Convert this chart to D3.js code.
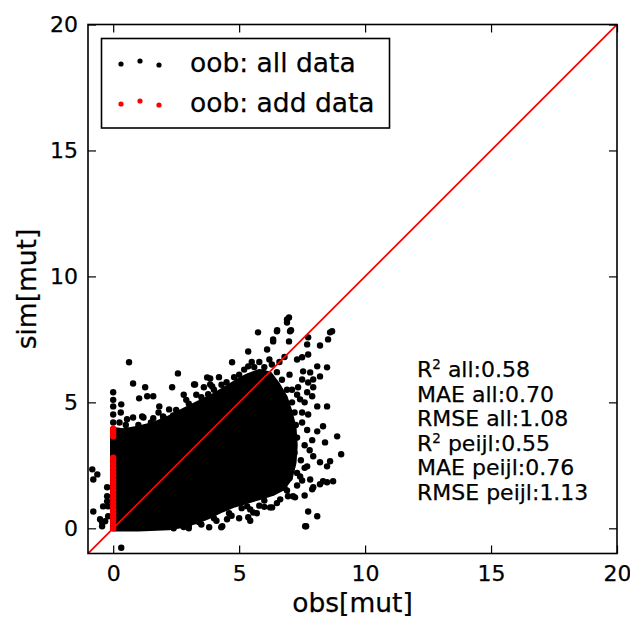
<!DOCTYPE html>
<html>
<head>
<meta charset="utf-8">
<script src="https://cdn.jsdelivr.net/npm/d3@7"></script>
<style>
  body { margin: 0; background: #fff; }
  text { font-family: "DejaVu Sans", sans-serif; fill: #000; stroke: #000; stroke-width: 0.25px; }
</style>
</head>
<body>
<svg id="canvas" width="630" height="621"></svg>
<script>
// axis ticks
const xTicks = [0, 5, 10, 15, 20];
const yTicks = [0, 5, 10, 15, 20];

// solid part of the "all data" cloud, outline of point centres [obs, sim]
const denseCore = [
  [0.0, 0.0], [0.0, 3.9], [0.4, 3.85], [1.0, 3.95], [1.6, 4.1], [2.1, 4.3],
  [2.6, 4.55], [3.1, 4.8], [3.6, 5.05], [4.1, 5.3], [4.6, 5.6], [5.0, 5.85],
  [5.4, 6.05], [5.8, 6.2], [6.2, 6.1], [6.5, 5.7], [6.8, 5.2], [7.0, 4.6],
  [7.15, 4.0], [7.2, 3.3], [7.15, 2.6], [7.0, 2.0], [6.7, 1.6], [6.3, 1.4],
  [5.8, 1.25], [5.3, 1.1], [4.8, 0.95], [4.3, 0.75], [3.8, 0.5], [3.3, 0.3],
  [2.8, 0.15], [2.2, 0.05], [1.0, 0.0]
];

// single "all data" points outside the solid part [obs, sim]
const allPoints = [
  [0.63, 6.59], [2.57, 6.15], [0.79, 5.75], [1.27, 5.6], [2.34, 5.6], [3.21, 5.71],
  [3.85, 5.95], [3.93, 5.63], [3.77, 5.32], [0, 5.4], [0, 5.1], [0, 4.84], [0.32, 4.92],
  [1.03, 5.16], [1.35, 5.24], [1.59, 5.24], [1.83, 4.84], [2.22, 4.72], [0, 4.52],
  [0.55, 4.33], [0.79, 4.4], [1.15, 4.44], [1.59, 4.37], [1.98, 4.44], [2.38, 4.48],
  [2.66, 4.52], [3.17, 4.8], [3.53, 4.84], [0, 4.2], [0.25, 4.2], [0.5, 4.1],
  [1.0, 4.1], [1.5, 4.2], [2.0, 4.4], [2.5, 4.7], [3.0, 4.95], [3.5, 5.2], [4.0, 5.5],
  [4.5, 5.8], [5.0, 6.1], [5.6, 6.4], [6.0, 6.4], [6.3, 6.5], [6.6, 6.6], [6.8, 6.8],
  [7.0, 6.1], [6.5, 6.2], [6.7, 5.9], [6.9, 5.5], [7.1, 5.0], [7.2, 4.6], [7.25, 4.1],
  [7.3, 3.6], [7.2, 3.0], [7.1, 2.5], [7.0, 2.0], [6.8, 1.6], [7.5, 4.2], [7.6, 3.3],
  [7.45, 2.7], [7.3, 2.2], [7.6, 1.3],
  [2.9, 5.1], [3.3, 5.3], [4.3, 5.7], [4.8, 6.0], [5.2, 6.3], [5.5, 6.6], [5.8, 6.6],
  [6.2, 6.7], [4.2, 6.0], [3.6, 5.6], [2.8, 5.3], [1.8, 4.6], [1.2, 4.4], [0.3, 4.6],
  [2.4, 0.0], [3.0, 0.0], [3.5, 0.15], [4.1, 0.3], [4.6, 0.6], [5.0, 0.4], [5.7, 0.6],
  [6.0, 0.85], [6.5, 1.0], [6.9, 1.5], [7.3, 1.7], [7.5, 1.9], [7.6, 2.4], [7.8, 3.1],
  [7.9, 3.5], [7.7, 3.9], [7.5, 4.6], [7.6, 5.0], [7.3, 5.3],
  [6.98, 8.37], [6.9, 8.17], [5.75, 7.78], [6.51, 7.86], [7.06, 7.86], [6.35, 7.42],
  [6.98, 7.42], [8.69, 7.82], [8.53, 7.5], [8.21, 7.26], [7.74, 7.58], [7.7, 7.3],
  [5.36, 7.02], [6.11, 7.1], [4.72, 6.59], [5.36, 6.43], [7.3, 6.7], [7.5, 6.79],
  [7.74, 6.9], [8.1, 6.43], [8.49, 6.39], [7.54, 6.23], [7.82, 6.19], [7.5, 5.91],
  [7.74, 5.79], [7.94, 5.91], [8.21, 6.03], [7.94, 5.6], [7.7, 5.4], [7.9, 5.24],
  [8.49, 4.84], [7.74, 4.52], [8.1, 4.84], [7.34, 5.6], [7.42, 5.12], [7.1, 5.5],
  [5.95, 6.19], [6.11, 5.91], [3.73, 5.99], [3.85, 5.71], [3.25, 5.71],
  [6.35, 7.5], [6.5, 7.82], [6.9, 8.29], [7.02, 7.82], [8.61, 7.78],
  [9.05, 2.94], [8.89, 3.65], [8.33, 4.05], [8.1, 3.85], [8.41, 3.41], [8.73, 1.87],
  [8.33, 1.87], [8.49, 2.46], [7.94, 1.63], [8.1, 0.48], [7.74, 0.67], [7.62, 0.08],
  [7.42, 2.06], [7.7, 2.46], [7.94, 2.86], [8.21, 2.62], [7.14, 1.27], [6.63, 1.15],
  [6.23, 0.83], [6.94, 1.27], [7.22, 1.23], [7.82, 1.94], [8.21, 1.75], [8.49, 1.83],
  [7.9, 1.55], [8.61, 2.66], [6.31, 0.83], [5.56, 0.63], [5.36, 0.44], [5.44, 0.75],
  [4.52, 0.36], [4.33, 0.08], [5.12, 1.07], [5.32, 0.87], [3.81, 0.04], [4.29, 0.04],
  [5.44, 0.3], [7.66, 0.08], [0.32, -0.77], [3.0, 0.1], [3.4, 0.25], [4.7, 0.5],
  [5.1, 0.8], [4.0, 0.4], [3.6, 0.45], [2.8, 0.05], [6.0, 1.1], [5.8, 0.9],
  [-0.83, 2.34], [-0.63, 2.14], [-0.79, 1.94], [-0.24, 1.63], [-0.24, 1.27],
  [-0.24, 1.07], [-0.2, 0.87], [-0.79, 0.67], [-0.52, 0.36], [-0.44, 0.08],
  [-0.2, 0.48], [-0.32, 0.28], [-0.4, 0.87], [-0.44, 0.24]
];

// "add data" points, all at obs = 0
const addSim = [
  0.0, 0.15, 0.3, 0.45, 0.6, 0.75, 0.9, 1.05, 1.2, 1.35, 1.5, 1.65, 1.8, 1.95,
  2.1, 2.25, 2.4, 2.55, 2.7, 2.8, 3.65, 3.75, 3.85, 3.95
];

const legendLabels = ["oob: all data", "oob: add data"];
const legendColors = ["#000", "#ff0000"];
const statNames = ["all", "all", "all", "peijl", "peijl", "peijl"];
const statKinds = ["R2", "MAE", "RMSE", "R2", "MAE", "RMSE"];
const statValues = ["0.58", "0.70", "1.08", "0.55", "0.76", "1.13"];

const svg = d3.select("#canvas");
const plotLeft = 88, plotRight = 617, plotTop = 24.5, plotBottom = 553.5;

const x = d3.scaleLinear().domain([-1, 20]).range([plotLeft, plotRight]);
const y = d3.scaleLinear().domain([-1, 20]).range([plotBottom, plotTop]);

svg.append("clipPath").attr("id", "plot")
  .append("rect")
  .attr("x", plotLeft).attr("y", plotTop)
  .attr("width", plotRight - plotLeft).attr("height", plotBottom - plotTop);

const plot = svg.append("g").attr("clip-path", "url(#plot)");

plot.append("path")
  .datum(denseCore)
  .attr("d", d3.line().x((d) => x(d[0])).y((d) => y(d[1])).curve(d3.curveLinearClosed))
  .style("fill", "#000")
  .style("stroke", "#000")
  .style("stroke-width", 6.4)
  .style("stroke-linejoin", "round");

plot.selectAll("circle.all")
  .data(allPoints)
  .join("circle")
  .attr("class", "all")
  .attr("cx", (d) => x(d[0]))
  .attr("cy", (d) => y(d[1]))
  .attr("r", 3.2)
  .style("fill", "#000");

plot.selectAll("circle.add")
  .data(addSim)
  .join("circle")
  .attr("class", "add")
  .attr("cx", x(0))
  .attr("cy", (d) => y(d))
  .attr("r", 3.2)
  .style("fill", "#ff0000");

// 1:1 line
plot.append("line")
  .attr("x1", x(-1)).attr("y1", y(-1))
  .attr("x2", x(20)).attr("y2", y(20))
  .style("stroke", "#ff0000")
  .style("stroke-width", 1.8);

// axes, ticks pointing inwards on all four sides
function styleAxis(g, hideLabels) {
  g.select(".domain").remove();
  g.selectAll(".tick line").attr("stroke", "#000").attr("stroke-width", 1.2);
  g.selectAll(".tick text")
    .style("font-family", '"DejaVu Sans", sans-serif')
    .style("font-size", "22px")
    .attr("fill", "#000");
  if (hideLabels) g.selectAll(".tick text").remove();
}

svg.append("g")
  .attr("transform", `translate(0,${plotBottom})`)
  .call(d3.axisBottom(x).tickValues(xTicks).tickSize(-8).tickPadding(12))
  .call(styleAxis, false);
svg.append("g")
  .attr("transform", `translate(0,${plotTop})`)
  .call(d3.axisTop(x).tickValues(xTicks).tickSize(-8))
  .call(styleAxis, true);
svg.append("g")
  .attr("transform", `translate(${plotLeft},0)`)
  .call(d3.axisLeft(y).tickValues(yTicks).tickSize(-8).tickPadding(10))
  .call(styleAxis, false);
svg.append("g")
  .attr("transform", `translate(${plotRight},0)`)
  .call(d3.axisRight(y).tickValues(yTicks).tickSize(-8))
  .call(styleAxis, true);

svg.append("rect")
  .attr("x", plotLeft).attr("y", plotTop)
  .attr("width", plotRight - plotLeft).attr("height", plotBottom - plotTop)
  .style("fill", "none")
  .style("stroke", "#000")
  .style("stroke-width", 1.6);

// axis labels
svg.append("text")
  .attr("x", (plotLeft + plotRight) / 2).attr("y", 612)
  .attr("text-anchor", "middle")
  .style("font-size", "26.5px")
  .text("obs[mut]");
svg.append("text")
  .attr("transform", `translate(36,${(plotTop + plotBottom) / 2}) rotate(-90)`)
  .attr("text-anchor", "middle")
  .style("font-size", "26.5px")
  .text("sim[mut]");

// legend
const legend = svg.append("g");
legend.append("rect")
  .attr("x", 101.5).attr("y", 38.5)
  .attr("width", 288).attr("height", 89.5)
  .style("fill", "#fff")
  .style("stroke", "#000")
  .style("stroke-width", 1.6);

const dotX = [121, 140, 159];
const dotDy = [1, -2, 2];
legendLabels.forEach((label, i) => {
  const cy = 63 + i * 40;
  legend.selectAll(null)
    .data(dotX)
    .join("circle")
    .attr("cx", (d) => d)
    .attr("cy", (d, j) => cy + dotDy[j])
    .attr("r", 2.6)
    .style("fill", legendColors[i]);
  legend.append("text")
    .attr("x", 190).attr("y", 72 + i * 40)
    .style("font-size", "26.5px")
    .text(label);
});

// statistics
const stats = svg.append("g");
statKinds.forEach((kind, i) => {
  const t = stats.append("text")
    .attr("x", 417).attr("y", 377 + i * 24.6)
    .style("font-size", "22px");
  if (kind === "R2") {
    t.append("tspan").text("R");
    t.append("tspan").attr("dy", -8).style("font-size", "13.5px").text("2");
    t.append("tspan").attr("dy", 8).text(` ${statNames[i]}:${statValues[i]}`);
  } else {
    t.text(`${kind} ${statNames[i]}:${statValues[i]}`);
  }
});
</script>
</body>
</html>
